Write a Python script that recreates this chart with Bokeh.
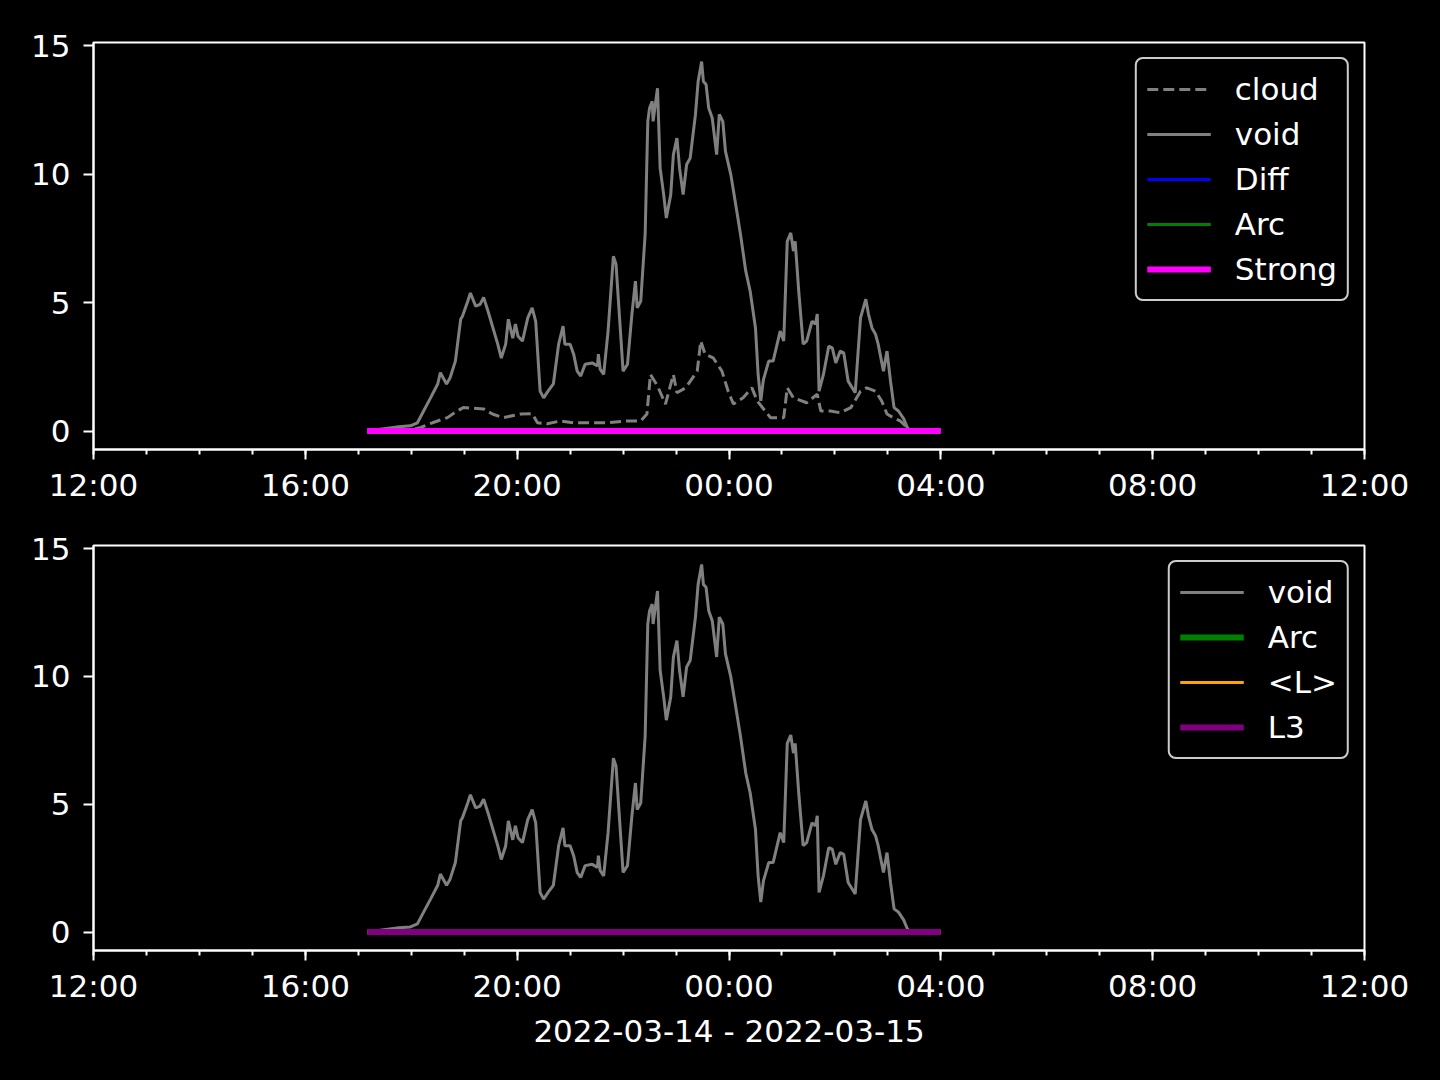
import pandas as pd
from bokeh.plotting import figure
from bokeh.models import (Range1d, FixedTicker, DatetimeTickFormatter, Legend,
                          LegendItem)
from bokeh.layouts import column
from bokeh.embed import file_html
from bokeh.resources import INLINE

# ---------------- data ----------------
void_clock = ["17:10", "17:46", "17:59", "18:07", "18:14", "18:22", "18:30", "18:33", "18:40", "18:44",
              "18:50", "18:56", "18:58", "19:04", "19:07", "19:13", "19:18", "19:22", "19:27", "19:38",
              "19:42", "19:47", "19:50", "19:55", "19:58", "20:01", "20:06", "20:12", "20:17", "20:21",
              "20:26", "20:30", "20:35", "20:41", "20:47", "20:52", "20:54", "21:00", "21:04", "21:08",
              "21:12", "21:17", "21:25", "21:31", "21:32", "21:34", "21:38", "21:43", "21:49", "21:52",
              "21:57", "22:00", "22:05", "22:10", "22:14", "22:16", "22:20", "22:22", "22:25", "22:28",
              "22:30", "22:33", "22:34", "22:39", "22:42", "22:46", "22:49", "22:54", "22:57", "23:01",
              "23:04", "23:08", "23:12", "23:16", "23:22", "23:25", "23:29", "23:31", "23:34", "23:37",
              "23:41", "23:46", "23:49", "23:53", "23:56", "00:02", "00:07", "00:13", "00:19", "00:24",
              "00:30", "00:33", "00:36", "00:39", "00:45", "00:50", "00:58", "01:02", "01:06", "01:10",
              "01:13", "01:15", "01:19", "01:24", "01:28", "01:34", "01:38", "01:40", "01:42", "01:47",
              "01:53", "01:57", "02:01", "02:06", "02:10", "02:15", "02:23", "02:29", "02:35", "02:38",
              "02:42", "02:46", "02:49", "02:55", "02:59", "03:03", "03:07", "03:12", "03:18", "03:22",
              "03:26", "04:00"]
void_vals = [0.0, 0.17, 0.2, 0.32, 0.78, 1.3, 1.83, 2.27, 1.83, 2.07,
             2.72, 4.35, 4.47, 5.05, 5.37, 4.86, 4.93, 5.2, 4.66, 3.38,
             2.84, 3.38, 4.35, 3.61, 4.16, 3.69, 3.5, 4.4, 4.79, 4.27,
             1.55, 1.29, 1.55, 1.83, 3.38, 4.08, 3.38, 3.38, 2.99, 2.33,
             2.14, 2.6, 2.65, 2.53, 2.99, 2.41, 2.2, 3.89, 6.8, 6.49,
             3.89, 2.33, 2.6, 4.55, 5.83, 4.79, 5.05, 6.1, 7.66, 12.05,
             12.57, 12.83, 12.05, 13.34, 10.23, 9.2, 8.29, 9.2, 10.76, 11.4,
             10.23, 9.2, 10.37, 10.62, 12.32, 13.6, 14.38, 13.6, 13.49, 12.57,
             12.18, 10.76, 12.32, 12.05, 10.88, 9.99, 8.94, 7.66, 6.22, 5.44,
             4.01, 2.2, 1.17, 2.0, 2.72, 2.72, 3.89, 3.5, 7.38, 7.71,
             7.0, 7.38, 5.44, 3.38, 3.5, 4.27, 4.16, 4.55, 1.55, 2.2,
             3.3, 3.24, 2.65, 3.11, 3.04, 1.94, 1.49, 4.4, 5.13, 4.55,
             4.01, 3.77, 3.38, 2.33, 3.11, 1.94, 0.91, 0.78, 0.47, 0.13,
             0.0, 0.0]

cloud_clock = ["17:10", "17:50", "18:10", "18:24", "18:41", "18:52", "18:59", "19:22", "19:32", "19:44",
               "20:04", "20:17", "20:23", "20:34", "20:49", "21:04", "21:42", "22:05", "22:20", "22:27",
               "22:31", "22:39", "22:48", "22:57", "23:01", "23:11", "23:24", "23:28", "23:33", "23:42",
               "23:52", "23:59", "00:05", "00:16", "00:26", "00:32", "00:41", "00:47", "01:02", "01:06",
               "01:13", "01:28", "01:40", "01:44", "01:55", "02:06", "02:18", "02:29", "02:36", "02:46",
               "02:53", "02:59", "03:06", "03:14", "03:22", "03:26", "04:00"]
cloud_vals = [0.0, 0.0, 0.13, 0.32, 0.52, 0.78, 0.91, 0.86, 0.66, 0.52,
              0.66, 0.67, 0.32, 0.28, 0.39, 0.32, 0.32, 0.39, 0.39, 0.66,
              2.2, 1.75, 1.05, 2.2, 1.49, 1.68, 2.33, 3.5, 2.99, 2.85,
              2.33, 1.55, 1.05, 1.29, 1.68, 1.17, 0.78, 0.52, 0.52, 1.68,
              1.29, 1.1, 1.43, 0.78, 0.78, 0.71, 0.91, 1.55, 1.68, 1.55,
              1.17, 0.66, 0.52, 0.39, 0.13, 0.0, 0.0]

span_clock = ["17:10", "04:00"]
diff_vals = [0.0, 0.0]
arc_vals = [0.0, 0.0]
strong_vals = [0.0, 0.0]
meanl_vals = [0.0, 0.0]
l3_vals = [0.0, 0.0]

y_ticks = [0, 5, 10, 15]
x_label = "2022-03-14 - 2022-03-15"


def to_dt(clock):
    out = []
    for c in clock:
        h = int(c.split(":")[0])
        day = "2022-03-14" if h >= 12 else "2022-03-15"
        out.append(pd.Timestamp(day + " " + c))
    return out


void_t = to_dt(void_clock)
cloud_t = to_dt(cloud_clock)
span_t = to_dt(span_clock)

x_start = pd.Timestamp("2022-03-14 12:00")
x_end = pd.Timestamp("2022-03-15 12:00")
major = [t.value // 10**6 for t in pd.date_range(x_start, x_end, freq="4h")]
minor = [t.value // 10**6 for t in pd.date_range(x_start, x_end, freq="1h")]

FONT = "DejaVu Sans"
FS = "31px"
GRAY = "#808080"


def make_fig(height, top, bottom):
    p = figure(width=1432, height=height, x_axis_type="datetime",
               output_backend="svg", toolbar_location=None,
               x_range=Range1d(x_start, x_end), y_range=Range1d(-0.72, 15.12),
               min_border_left=93, min_border_right=68,
               min_border_top=top, min_border_bottom=bottom)
    p.background_fill_color = "black"
    p.border_fill_color = "black"
    p.outline_line_color = "white"
    p.outline_line_width = 2
    p.grid.visible = False
    for ax in (p.xaxis[0], p.yaxis[0]):
        ax.axis_line_color = "white"
        ax.axis_line_width = 2
        ax.major_tick_line_color = "white"
        ax.major_tick_line_width = 2
        ax.minor_tick_line_color = "white"
        ax.minor_tick_line_width = 2
        ax.major_tick_in = 0
        ax.major_tick_out = 10
        ax.minor_tick_in = 0
        ax.minor_tick_out = 5
        ax.major_label_text_color = "white"
        ax.major_label_text_font = FONT
        ax.major_label_text_font_size = FS
    p.xaxis[0].major_label_standoff = 7
    p.yaxis[0].major_label_standoff = 13
    p.xaxis[0].ticker = FixedTicker(ticks=major, minor_ticks=minor)
    p.xaxis[0].formatter = DatetimeTickFormatter(hours="%H:%M", hourmin="%H:%M",
                                                  days="%H:%M", minutes="%H:%M")
    p.yaxis[0].ticker = FixedTicker(ticks=y_ticks, minor_ticks=[])
    return p


def style_legend(lg):
    lg.location = "top_right"
    lg.margin = 15
    lg.padding = 10
    lg.spacing = 5
    lg.glyph_width = 64
    lg.glyph_height = 40
    lg.label_height = 40
    lg.label_standoff = 24
    lg.label_text_color = "white"
    lg.label_text_font = FONT
    lg.label_text_font_size = FS
    lg.background_fill_color = "black"
    lg.background_fill_alpha = 0.8
    lg.border_line_color = "#cccccc"
    lg.border_line_alpha = 1.0
    lg.border_line_width = 2.5
    if "border_radius" in Legend.properties():
        lg.border_radius = 8


# ---------------- top panel ----------------
p1 = make_fig(510, 42, 61)
r_cloud = p1.line(cloud_t, cloud_vals, line_color=GRAY, line_width=3, line_dash="11 5")
r_void = p1.line(void_t, void_vals, line_color=GRAY, line_width=3)
r_diff = p1.line(span_t, diff_vals, line_color="#0000ff", line_width=3)
r_arc = p1.line(span_t, arc_vals, line_color="#008000", line_width=3)
r_strong = p1.line(span_t, strong_vals, line_color="#ff00ff", line_width=6)
lg1 = Legend(items=[LegendItem(label="cloud", renderers=[r_cloud]),
                    LegendItem(label="void", renderers=[r_void]),
                    LegendItem(label="Diff", renderers=[r_diff]),
                    LegendItem(label="Arc", renderers=[r_arc]),
                    LegendItem(label="Strong", renderers=[r_strong])])
style_legend(lg1)
p1.add_layout(lg1)

# ---------------- bottom panel ----------------
p2 = make_fig(550, 35, 110)
r_void2 = p2.line(void_t, void_vals, line_color=GRAY, line_width=3)
r_arc2 = p2.line(span_t, arc_vals, line_color="#008000", line_width=6)
r_meanl = p2.line(span_t, meanl_vals, line_color="#ffa500", line_width=3)
r_l3 = p2.line(span_t, l3_vals, line_color="#800080", line_width=6)
lg2 = Legend(items=[LegendItem(label="void", renderers=[r_void2]),
                    LegendItem(label="Arc", renderers=[r_arc2]),
                    LegendItem(label="<L>", renderers=[r_meanl]),
                    LegendItem(label="L3", renderers=[r_l3])])
style_legend(lg2)
p2.add_layout(lg2)
p2.xaxis[0].axis_label = x_label
p2.xaxis[0].axis_label_text_color = "white"
p2.xaxis[0].axis_label_text_font = FONT
p2.xaxis[0].axis_label_text_font_size = FS
p2.xaxis[0].axis_label_text_font_style = "normal"
p2.xaxis[0].axis_label_standoff = 6

layout = column(p1, p2, spacing=0)
layout.styles = {"background-color": "black"}

html = file_html(layout, INLINE)
html = html.replace("<body>", "<body style=\"background-color:black;\">")
open("out.html", "w").write(html)
